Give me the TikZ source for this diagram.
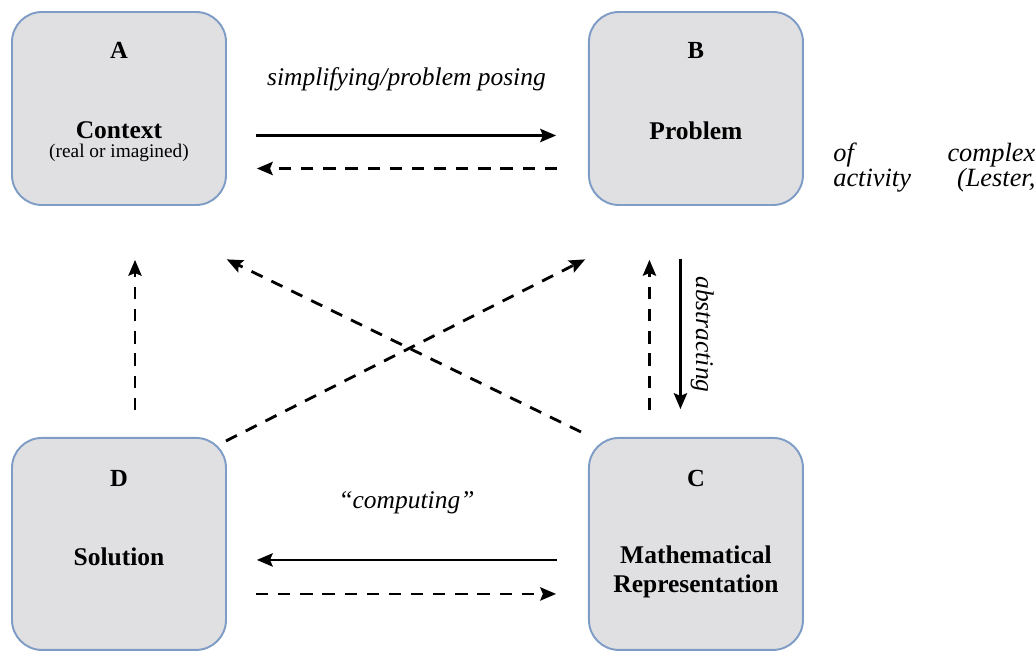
\documentclass[tikz,border=0pt]{standalone}
\usepackage{fontspec}
\setmainfont{Liberation Serif}
\usetikzlibrary{positioning,arrows.meta}

\definecolor{boxfill}{RGB}{224,224,226}
\definecolor{boxline}{RGB}{126,156,198}

\begin{document}
\begin{tikzpicture}[
        stage/.style={
                rectangle,
                rounded corners=0.6cm,
                draw=boxline,
                line width=1.1pt,
                fill=boxfill,
                minimum width=42.8mm,
            },
        letter/.style={
                inner sep=0pt,
                anchor=north,
                font=\bfseries\fontsize{14}{17}\selectfont
            },
        title/.style={
                inner sep=0pt,
                anchor=north,
                align=center,
                font=\bfseries\fontsize{14.5}{17}\selectfont
            },
        lbl/.style={
                font=\itshape\fontsize{14.5}{17}\selectfont
            },
        sidetext/.style={
                inner sep=0pt,
                anchor=base west,
                font=\itshape\fontsize{15}{18}\selectfont
            },
        flow/.style={->, line width=1.6pt},
        back/.style={->, line width=1.6pt, dash pattern=on 7pt off 5.6pt},
        >= {Stealth[length=9pt,width=7.5pt,inset=1.5pt]},
        shorten >= 0.5pt
    ]
    \useasboundingbox (0,0) rectangle (20.7,13.04);

    \node[stage,minimum height=38.6mm] (A) at (2.38,10.87) {};
    \node[stage,minimum height=38.6mm] (B) [right=7.22cm of A] {};
    \node[stage,minimum height=42.4mm] (D) [below=4.62cm of A] {};
    \node[stage,minimum height=42.4mm] (C) [right=7.22cm of D] {};

    % box texts
    \node[letter] (Aletter) at ([yshift=-6.2mm]A.north) {A};
    \node[title] (Aname) at ([yshift=-22mm]A.north) {Context\\[-6pt]{\mdseries\fontsize{11}{12}\selectfont(real or imagined)}};
    \node[letter] (Bletter) at ([yshift=-6.2mm]B.north) {B};
    \node[title] (Bname) at ([yshift=-22mm]B.north) {Problem};
    \node[letter] (Dletter) at ([yshift=-6.6mm]D.north) {D};
    \node[title] (Dname) at ([yshift=-22mm]D.north) {Solution};
    \node[letter] (Cletter) at ([yshift=-6.6mm]C.north) {C};
    \node[title] (Cname) at ([yshift=-21.6mm]C.north) {Mathematical\\Representation};

    % text beside the figure
    \node[sidetext] (side1) at (16.66,9.8) {\makebox[4.04cm][l]{of\hfill complex}};
    \node[sidetext] (side2) at (16.66,9.3) {\makebox[4.04cm][l]{activity\hfill(Lester,}};

    % A <-> B
    \draw[flow] ([xshift=5.8mm,yshift=-5.4mm]A.east) -- node[lbl,midway,above=7.4mm] (simp) {simplifying/problem posing} ([xshift=-6.2mm,yshift=-5.4mm]B.west);
    \draw[back] ([xshift=-6.2mm,yshift=-12mm]B.west) -- ([xshift=5.8mm,yshift=-12mm]A.east);

    % B <-> C
    \draw[flow] ([xshift=-3.1mm,yshift=-10.6mm]B.south) -- node[lbl,midway,rotate=-90,anchor=south,inner sep=5pt] (abst) {abstracting} ([xshift=-3.1mm,yshift=5.4mm]C.north);
    \draw[back] ([xshift=-9.3mm,yshift=5.4mm]C.north) -- ([xshift=-9.3mm,yshift=-10.6mm]B.south);

    % C <-> D
    \draw[flow] ([xshift=-6.2mm,yshift=-3.2mm]C.west) -- node[lbl,midway,above=7.8mm] (comp) {“computing”} ([xshift=5.8mm,yshift=-3.2mm]D.east);
    \draw[back] ([xshift=5.8mm,yshift=-10mm]D.east) -- ([xshift=-6.2mm,yshift=-10mm]C.west);

    % D -> A
    \draw[back] ([xshift=3.2mm,yshift=5.4mm]D.north) -- ([xshift=3.2mm,yshift=-10.6mm]A.south);

    % diagonals
    \draw[back] ([xshift=-1.4mm,yshift=1mm]C.north west) -- ([xshift=-0.2mm,yshift=-10.6mm]A.south east);
    \draw[back] ([xshift=-0.2mm,yshift=-0.8mm]D.north east) -- ([xshift=-0.4mm,yshift=-10.6mm]B.south west);
\end{tikzpicture}
\end{document}
